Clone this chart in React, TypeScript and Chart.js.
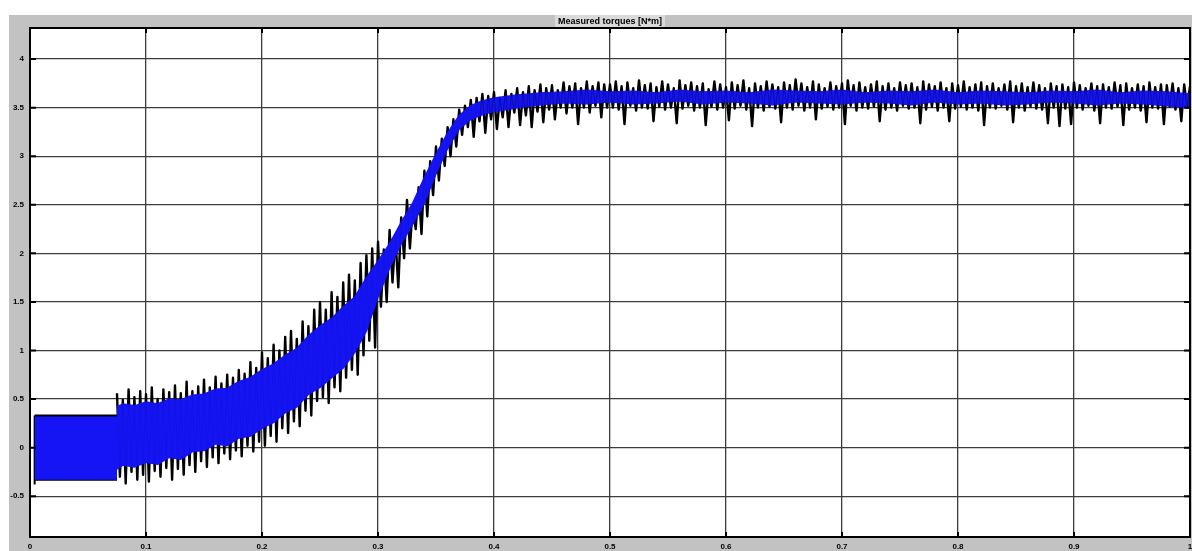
import React, { useEffect, useRef } from "react";
import { Chart, registerables } from "chart.js";

Chart.register(...registerables);

const chartTitle = "Measured torques [N*m]";

const xTicks = [0, 0.1, 0.2, 0.3, 0.4, 0.5, 0.6, 0.7, 0.8, 0.9, 1];
const xTickLabels = ["0", "0.1", "0.2", "0.3", "0.4", "0.5", "0.6", "0.7", "0.8", "0.9", "1"];
const yTicks = [-0.5, 0, 0.5, 1, 1.5, 2, 2.5, 3, 3.5, 4];
const yTickLabels = ["-0.5", "0", "0.5", "1", "1.5", "2", "2.5", "3", "3.5", "4"];

// initial switching block (0.004 .. 0.075 s)
const blockT = [0.004, 0.075];
const blockHi = [0.33, 0.33];
const blockLo = [-0.33, -0.33];
const blockEdge = [0.33, -0.38];

// noisy torque: sampled every 0.005 s from 0.075 s (upper / lower extremes)
const spikeStart = 0.075;
const spikeStep = 0.005;
const spikeHi = [
  0.56, 0.49, 0.6, 0.52, 0.58,
  0.55, 0.62, 0.5, 0.6, 0.57,
  0.64, 0.56, 0.68, 0.58, 0.63,
  0.7, 0.62, 0.73, 0.66, 0.75,
  0.72, 0.8, 0.76, 0.88, 0.82,
  0.98, 0.92, 1.06, 1.0, 1.14,
  1.2, 1.12, 1.3, 1.25, 1.42,
  1.5, 1.42, 1.6, 1.55, 1.7,
  1.78, 1.72, 1.9, 1.98, 2.05,
  2.12, 2.04, 2.24, 2.17, 2.37,
  2.55, 2.5, 2.68, 2.85, 2.95,
  3.1, 3.18, 3.3, 3.38, 3.48,
  3.52, 3.58, 3.6, 3.64, 3.62,
  3.66, 3.6, 3.68, 3.64, 3.7,
  3.66, 3.72, 3.68, 3.74, 3.7,
  3.73, 3.68, 3.76, 3.72, 3.75,
  3.7, 3.77, 3.72, 3.76, 3.74,
  3.74, 3.77, 3.72, 3.76, 3.7, 3.78, 3.73, 3.75, 3.71, 3.77,
  3.74, 3.7, 3.78, 3.73, 3.76, 3.72, 3.75, 3.69, 3.77, 3.74,
  3.71, 3.76, 3.73, 3.78, 3.7, 3.75, 3.72, 3.77, 3.74, 3.71,
  3.76, 3.73, 3.79, 3.75, 3.71, 3.77, 3.74, 3.7, 3.76, 3.72,
  3.75, 3.78, 3.73, 3.76, 3.71, 3.74, 3.77, 3.72, 3.75, 3.7,
  3.76, 3.73, 3.75, 3.71, 3.77, 3.74, 3.72, 3.76, 3.7, 3.75,
  3.73, 3.77, 3.71, 3.74, 3.76, 3.72, 3.75, 3.7, 3.74, 3.77,
  3.72, 3.75, 3.71, 3.76, 3.73, 3.7, 3.75, 3.72, 3.74, 3.71,
  3.76, 3.73, 3.7, 3.75, 3.72, 3.74, 3.71, 3.76, 3.73, 3.75,
  3.7, 3.74, 3.72, 3.76, 3.71, 3.74, 3.73, 3.75, 3.7, 3.74,
  3.72,
];
const spikeLo = [
  -0.3, -0.37, -0.25, -0.33, -0.28,
  -0.35, -0.24, -0.3, -0.21, -0.33,
  -0.22, -0.28, -0.18, -0.25, -0.14,
  -0.2, -0.1, -0.16, -0.06, -0.12,
  -0.03, -0.09, 0.02, -0.04, 0.06,
  0.02, 0.12, 0.06, 0.2, 0.15,
  0.27, 0.22, 0.38, 0.33, 0.48,
  0.52, 0.46, 0.62, 0.58, 0.72,
  0.8, 0.75, 0.95, 1.1, 1.03,
  1.45, 1.5, 1.7, 1.65, 1.95,
  2.05, 2.25, 2.2, 2.38, 2.6,
  2.75, 2.9, 3.0, 3.1, 3.22,
  3.3, 3.2, 3.36, 3.24, 3.38,
  3.28, 3.4, 3.3, 3.45, 3.32,
  3.42, 3.3, 3.46, 3.35, 3.48,
  3.38, 3.5, 3.44, 3.5, 3.33,
  3.5, 3.45, 3.52, 3.4, 3.5,
  3.5, 3.48, 3.33, 3.52, 3.47, 3.5, 3.49, 3.36, 3.51, 3.48,
  3.5, 3.34, 3.49, 3.52, 3.47, 3.5, 3.32, 3.51, 3.48, 3.5,
  3.37, 3.49, 3.52, 3.48, 3.31, 3.5, 3.47, 3.51, 3.49, 3.35,
  3.5, 3.48, 3.52, 3.47, 3.5, 3.38, 3.49, 3.51, 3.48, 3.5,
  3.33, 3.52, 3.47, 3.5, 3.49, 3.51, 3.36, 3.48, 3.5, 3.47,
  3.52, 3.49, 3.5, 3.34, 3.48, 3.51, 3.47, 3.5, 3.36, 3.49,
  3.51, 3.48, 3.5, 3.47, 3.32, 3.5, 3.49, 3.52, 3.48, 3.35,
  3.5, 3.47, 3.51, 3.49, 3.48, 3.34, 3.5, 3.31, 3.49, 3.33,
  3.5, 3.48, 3.52, 3.47, 3.34, 3.5, 3.49, 3.51, 3.32, 3.48,
  3.5, 3.47, 3.35, 3.5, 3.49, 3.33, 3.51, 3.48, 3.36, 3.5,
  3.34,
];

// dense core of the trace
const coreT = [
  0.075, 0.08, 0.09, 0.1, 0.11, 0.12, 0.13, 0.14, 0.15, 0.16, 0.17, 0.18, 0.19,
  0.2, 0.21, 0.22, 0.23, 0.24, 0.25, 0.26, 0.27, 0.28, 0.29, 0.3, 0.31, 0.32,
  0.33, 0.34, 0.35, 0.36, 0.37, 0.38, 0.39, 0.4,
  0.42, 0.44, 0.46, 0.48, 0.5, 0.52, 0.54, 0.56, 0.58, 0.6, 0.62, 0.64, 0.66,
  0.68, 0.7, 0.72, 0.74, 0.76, 0.78, 0.8, 0.82, 0.84, 0.86, 0.88, 0.9, 0.92,
  0.94, 0.96, 0.98, 1.0,
];
const coreHi = [
  0.42, 0.45, 0.43, 0.47, 0.45, 0.5, 0.49, 0.54, 0.55, 0.6, 0.61, 0.68, 0.72,
  0.8, 0.86, 0.95, 1.02, 1.15, 1.25, 1.33, 1.45, 1.55, 1.75, 1.92, 2.1, 2.32,
  2.52, 2.78, 3.02, 3.24, 3.42, 3.52, 3.57, 3.6,
  3.63, 3.65, 3.66, 3.68, 3.66, 3.67, 3.65, 3.68, 3.66, 3.67, 3.65, 3.68, 3.67,
  3.66, 3.68, 3.65, 3.67, 3.66, 3.68, 3.65, 3.67, 3.66, 3.65, 3.67, 3.66, 3.68,
  3.65, 3.67, 3.66, 3.64,
];
const coreLo = [
  -0.22, -0.18, -0.2, -0.15, -0.17, -0.1, -0.12, -0.04, -0.03, 0.04, 0.02, 0.1, 0.12,
  0.2, 0.26, 0.36, 0.42, 0.55, 0.62, 0.72, 0.82, 0.98, 1.2, 1.55, 1.85, 2.1,
  2.3, 2.52, 2.82, 3.08, 3.28, 3.38, 3.43, 3.46,
  3.5, 3.53, 3.55, 3.54, 3.56, 3.54, 3.55, 3.57, 3.54, 3.56, 3.55, 3.53, 3.56,
  3.55, 3.54, 3.56, 3.55, 3.53, 3.56, 3.54, 3.55, 3.53, 3.54, 3.56, 3.55, 3.53,
  3.55, 3.54, 3.52, 3.5,
];

const BLUE = "#1414f5";
const tickFont = { family: "'Liberation Sans', Arial, sans-serif", size: 8, weight: "bold" as const };

function labelFor(ticks: number[], labels: string[], v: number) {
  const i = ticks.findIndex((t) => Math.abs(t - v) < 1e-9);
  return i >= 0 ? labels[i] : "";
}

const framePlugin = {
  id: "frame",
  beforeDraw(chart: any) {
    const { ctx, chartArea: a, width, height } = chart;
    ctx.save();
    ctx.fillStyle = "#ffffff";
    ctx.fillRect(0, 0, width, height);
    ctx.fillStyle = "#c2c2c2";
    ctx.fillRect(9, 15, width - 9, height - 15);
    ctx.fillStyle = "#ffffff";
    ctx.fillRect(a.left, a.top, a.right - a.left, a.bottom - a.top);
    ctx.font = "bold 9px 'Liberation Sans', Arial, sans-serif";
    const tw = ctx.measureText(chartTitle).width;
    const cx = (a.left + a.right) / 2;
    ctx.fillStyle = "#dadada";
    ctx.fillRect(cx - tw / 2 - 3, 15, tw + 6, 12);
    ctx.fillStyle = "#000";
    ctx.textAlign = "center";
    ctx.textBaseline = "middle";
    ctx.fillText(chartTitle, cx, 21.5);
    ctx.restore();
  },
  afterDraw(chart: any) {
    const { ctx, chartArea: a, scales } = chart;
    ctx.save();
    ctx.strokeStyle = "#000";
    ctx.lineWidth = 2;
    ctx.strokeRect(a.left, a.top, a.right - a.left, a.bottom - a.top);
    ctx.beginPath();
    for (const v of yTicks) {
      const y = scales.y.getPixelForValue(v);
      ctx.moveTo(a.left, y);
      ctx.lineTo(a.left + 6, y);
      ctx.moveTo(a.right, y);
      ctx.lineTo(a.right - 6, y);
    }
    for (const v of xTicks) {
      const x = scales.x.getPixelForValue(v);
      ctx.moveTo(x, a.top);
      ctx.lineTo(x, a.top + 5);
      ctx.moveTo(x, a.bottom);
      ctx.lineTo(x, a.bottom - 5);
    }
    ctx.stroke();
    ctx.restore();
  },
};

export default function App() {
  const ref = useRef<HTMLCanvasElement | null>(null);

  useEffect(() => {
    if (!ref.current) return;

    const zigzag: { x: number; y: number }[] = [];
    spikeHi.forEach((hi, i) => {
      const t = spikeStart + spikeStep * i;
      zigzag.push({ x: t, y: hi });
      zigzag.push({ x: t + spikeStep / 2, y: spikeLo[i] });
    });

    const chart = new Chart(ref.current, {
      type: "line",
      data: {
        datasets: [
          {
            // faint texture over the steady-state core
            data: zigzag,
            borderWidth: 0.9,
            borderJoinStyle: "round",
            fill: false,
            segment: {
              borderColor: (c: any) =>
                c.p0.parsed.x > 0.385 ? "rgba(0,0,0,0.38)" : "rgba(0,0,0,0.08)",
            },
            order: 0,
          },
          {
            data: coreT.map((t, i) => ({ x: t, y: coreHi[i] })),
            borderColor: BLUE,
            backgroundColor: BLUE,
            borderWidth: 1.5,
            fill: "+1",
            order: 1,
          },
          {
            data: coreT.map((t, i) => ({ x: t, y: coreLo[i] })),
            borderColor: BLUE,
            borderWidth: 1.5,
            fill: false,
            order: 1,
          },
          {
            data: blockT.map((t, i) => ({ x: t, y: blockHi[i] })),
            borderColor: "#000",
            backgroundColor: BLUE,
            borderWidth: 2,
            fill: "+1",
            order: 2,
          },
          {
            data: blockT.map((t, i) => ({ x: t, y: blockLo[i] })),
            borderColor: "#000",
            borderWidth: 2,
            fill: false,
            order: 2,
          },
          {
            data: blockEdge.map((v) => ({ x: blockT[0], y: v })),
            borderColor: "#000",
            borderWidth: 2,
            fill: false,
            order: 2,
          },
          {
            data: zigzag,
            borderColor: "#000",
            borderWidth: 2.4,
            borderJoinStyle: "round",
            fill: false,
            order: 10,
          },
        ],
      },
      options: {
        responsive: false,
        animation: false,
        events: [],
        layout: { padding: { top: 28, right: 2, left: 0, bottom: 0 } },
        plugins: {
          legend: { display: false },
          tooltip: { enabled: false },
          title: { display: false },
        },
        elements: { point: { radius: 0 }, line: { tension: 0 } },
        scales: {
          x: {
            type: "linear",
            min: 0,
            max: 1,
            afterBuildTicks: (s: any) => {
              s.ticks = xTicks.map((v) => ({ value: v }));
            },
            afterFit: (s: any) => {
              s.height = 14;
              s.paddingLeft = 0;
              s.paddingRight = 0;
            },
            ticks: {
              callback: (v: any) => labelFor(xTicks, xTickLabels, Number(v)),
              font: tickFont,
              color: "#000",
              padding: 5,
              maxRotation: 0,
              autoSkip: false,
            },
            grid: { color: "#3c3c3c", lineWidth: 1.3, drawTicks: false },
            border: { display: false },
          },
          y: {
            type: "linear",
            min: -0.92,
            max: 4.32,
            afterBuildTicks: (s: any) => {
              s.ticks = yTicks.map((v) => ({ value: v }));
            },
            afterFit: (s: any) => {
              s.width = 30;
              s.paddingTop = 0;
              s.paddingBottom = 0;
            },
            ticks: {
              callback: (v: any) => labelFor(yTicks, yTickLabels, Number(v)),
              font: tickFont,
              color: "#000",
              padding: 6,
              autoSkip: false,
            },
            grid: { color: "#3c3c3c", lineWidth: 1.3, drawTicks: false },
            border: { display: false },
          },
        },
      },
      plugins: [framePlugin],
    });

    return () => chart.destroy();
  }, []);

  return (
    <div style={{ position: "absolute", left: 0, top: 0, width: 1192, height: 551 }}>
      <canvas ref={ref} width={1192} height={551} style={{ display: "block" }} />
    </div>
  );
}
